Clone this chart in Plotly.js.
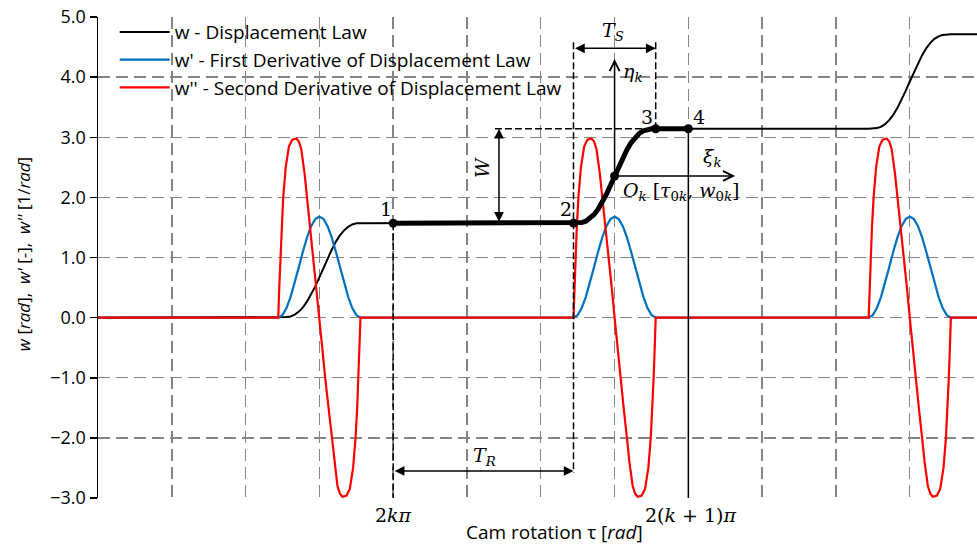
<!DOCTYPE html>
<html><head><meta charset="utf-8">
<script src="https://cdn.plot.ly/plotly-3.0.1.min.js"></script>
<style>html,body{margin:0;padding:0;background:#fff}</style>
</head><body><div id="chart" style="width:977px;height:544px"></div>
<script>
// ---- data (x in rad, y in rad / - / 1/rad) ----
const xMin = 0, xMax = 18.71;
const twoKPi = 6.283, twoK1Pi = 12.566;

// rise segments (displacement & first derivative sample positions)
const riseX1 = [3.837, 3.925, 4.012, 4.100, 4.187, 4.275, 4.362, 4.450, 4.537, 4.625, 4.712, 4.800, 4.887, 4.975, 5.062, 5.150, 5.237, 5.325, 5.412, 5.500, 5.587];
const riseX2 = [10.121, 10.209, 10.296, 10.384, 10.471, 10.559, 10.646, 10.734, 10.821, 10.909, 10.996, 11.084, 11.171, 11.259, 11.346, 11.434, 11.521, 11.609, 11.696, 11.784, 11.871];
const riseX3 = [16.404, 16.492, 16.579, 16.667, 16.754, 16.842, 16.929, 17.017, 17.104, 17.192, 17.279, 17.367, 17.454, 17.542, 17.629, 17.717, 17.804, 17.892, 17.979, 18.067, 18.154];

// w - displacement law
const wRise1 = [0, 0.00, 0.01, 0.02, 0.05, 0.10, 0.17, 0.27, 0.39, 0.52, 0.67, 0.83, 0.99, 1.13, 1.26, 1.37, 1.45, 1.51, 1.55, 1.57, 1.571];
const wRise2 = [1.571, 1.572, 1.581, 1.604, 1.647, 1.714, 1.804, 1.918, 2.052, 2.201, 2.356, 2.512, 2.660, 2.794, 2.908, 2.999, 3.065, 3.108, 3.132, 3.140, 3.142];
const wRise3 = [3.142, 3.143, 3.152, 3.175, 3.218, 3.284, 3.375, 3.489, 3.623, 3.771, 3.927, 4.083, 4.231, 4.365, 4.479, 4.570, 4.636, 4.679, 4.702, 4.711, 4.712];
const wEnd = 4.712;

// w' - first derivative (same bump in every rise)
const dwRise = [0, 0.041, 0.160, 0.346, 0.580, 0.840, 1.100, 1.334, 1.520, 1.639, 1.680, 1.639, 1.520, 1.334, 1.100, 0.840, 0.580, 0.346, 0.160, 0.041, 0];

// w'' - second derivative sample positions and values
const redX1 = [3.837, 3.858, 3.881, 3.907, 3.942, 3.995, 4.065, 4.135, 4.222, 4.275, 4.327, 4.397, 4.450, 4.520, 4.590, 4.651, 4.712, 4.773, 4.835, 4.905, 4.975, 5.027, 5.097, 5.150, 5.202, 5.290, 5.360, 5.430, 5.482, 5.517, 5.543, 5.566, 5.587];
const redX2 = [10.121, 10.142, 10.165, 10.191, 10.226, 10.279, 10.349, 10.419, 10.506, 10.559, 10.611, 10.681, 10.734, 10.804, 10.874, 10.935, 10.996, 11.057, 11.119, 11.189, 11.259, 11.311, 11.381, 11.434, 11.486, 11.574, 11.644, 11.714, 11.766, 11.801, 11.827, 11.850, 11.871];
const redX3 = [16.404, 16.425, 16.448, 16.474, 16.509, 16.562, 16.632, 16.702, 16.789, 16.842, 16.894, 16.964, 17.017, 17.087, 17.157, 17.218, 17.279, 17.340, 17.402, 17.472, 17.542, 17.594, 17.664, 17.717, 17.769, 17.857, 17.927, 17.997, 18.049, 18.084, 18.110, 18.133, 18.154];
const ddwRise = [0, 0.5, 1.0, 1.5, 2.0, 2.5, 2.85, 2.96, 2.98, 2.93, 2.8, 2.4, 2.0, 1.5, 1.0, 0.5, 0, -0.5, -1.0, -1.5, -2.0, -2.4, -2.8, -2.93, -2.98, -2.96, -2.85, -2.5, -2.0, -1.5, -1.0, -0.5, 0];

// characteristic points 1, 2, O_k, 3, 4
const ptX = [6.283, 10.121, 10.996, 11.871, 12.566];
const ptY = [1.571, 1.571, 2.356, 3.142, 3.142];

const yTickVals = [-3, -2, -1, 0, 1, 2, 3, 4, 5];
const legendNames = ["w - Displacement Law", "w' - First Derivative of Displacement Law", "w'' - Second Derivative of Displacement Law"];

// ---- traces ----
const traces = [
  {x: [xMin, ...riseX1, ...riseX2, ...riseX3, xMax], y: [0, ...wRise1, ...wRise2, ...wRise3, wEnd],
   mode: 'lines', name: legendNames[0], line: {color: '#000000', width: 2}},
  {x: [xMin, ...riseX1, ...riseX2, ...riseX3, xMax], y: [0, ...dwRise, ...dwRise, ...dwRise, 0],
   mode: 'lines', name: legendNames[1], line: {color: '#0070C0', width: 2.2}},
  {x: [xMin, ...redX1, ...redX2, ...redX3, xMax], y: [0, ...ddwRise, ...ddwRise, ...ddwRise, 0],
   mode: 'lines', name: legendNames[2], line: {color: '#FF0000', width: 2.2}},
  {x: [twoKPi, ...riseX2, twoK1Pi], y: [1.571, ...wRise2, 3.142],
   mode: 'lines', showlegend: false, hoverinfo: 'skip', line: {color: '#000000', width: 5}},
  {x: ptX, y: ptY, mode: 'markers', showlegend: false, hoverinfo: 'skip',
   marker: {color: '#000000', size: 9}}
];

const dashBlack = {color: '#000000', width: 1.5, dash: '7px,3px'};
const shapes = [
  {type: 'line', xref: 'x', yref: 'y', x0: twoKPi, x1: twoKPi, y0: 1.571, y1: -3, line: dashBlack},
  {type: 'line', xref: 'x', yref: 'y', x0: twoK1Pi, x1: twoK1Pi, y0: 3.142, y1: -3, line: {color: '#000000', width: 1.5}},
  {type: 'line', xref: 'x', yref: 'y', x0: 10.121, x1: 10.121, y0: 4.58, y1: -2.58, line: dashBlack},
  {type: 'line', xref: 'x', yref: 'y', x0: 11.871, x1: 11.871, y0: 4.58, y1: 3.142, line: dashBlack},
  {type: 'line', xref: 'x', yref: 'y', x0: 8.45, x1: 11.871, y0: 3.142, y1: 3.142, line: dashBlack}
];

const mathFont = {family: 'DejaVu Serif', size: 19, color: '#000000'};
function arrow(x, y, ax, ay, head, both) {
  const a = {x: x, y: y, ax: ax, ay: ay, xref: 'x', yref: 'y', axref: 'x', ayref: 'y', text: '',
    showarrow: true, arrowhead: head, arrowsize: 1.3, arrowwidth: 1.5, arrowcolor: '#000000', standoff: 0, startstandoff: 0};
  if (both) { a.arrowside = 'end+start'; a.startarrowhead = head; a.startarrowsize = 1.3; }
  return a;
}
function label(x, y, text, opts) {
  return Object.assign({x: x, y: y, xref: 'x', yref: 'y', text: text, showarrow: false, font: mathFont,
    xanchor: 'center', yanchor: 'middle'}, opts || {});
}

const annotations = [
  arrow(11.871, 4.48, 10.121, 4.48, 2, true),           // T_S
  arrow(10.121, -2.55, 6.283, -2.55, 2, true),          // T_R
  arrow(8.535, 3.142, 8.535, 1.571, 2, true),           // W
  arrow(10.996, 4.30, 10.996, 2.356, 5, false),         // eta_k
  arrow(13.56, 2.356, 10.996, 2.356, 5, false),         // xi_k
  label(10.96, 4.76, '<i>T</i><sub><i>S</i></sub>'),
  label(8.22, -2.31, '<i>T</i><sub><i>R</i></sub>'),
  label(8.19, 2.50, '<i>W</i>', {textangle: -90}),
  label(11.13, 4.08, '<i>η</i><sub><i>k</i></sub>', {xanchor: 'left'}),
  label(13.09, 2.66, '<i>ξ</i><sub><i>k</i></sub>'),
  label(11.13, 2.10, '<i>O</i><sub><i>k</i></sub> [<i>τ</i><sub>0<i>k</i></sub>, <i>w</i><sub>0<i>k</i></sub>]', {xanchor: 'left'}),
  label(6.13, 1.80, '1'),
  label(9.96, 1.80, '2'),
  label(11.69, 3.34, '3'),
  label(12.79, 3.34, '4'),
  {x: twoKPi, y: -0.035, xref: 'x', yref: 'paper', text: '2<i>kπ</i>', showarrow: false, font: mathFont, xanchor: 'center', yanchor: 'middle'},
  {x: 12.63, y: -0.035, xref: 'x', yref: 'paper', text: '2(<i>k</i> + 1)<i>π</i>', showarrow: false, font: mathFont, xanchor: 'center', yanchor: 'middle'},
  {x: 0.519, y: -0.071, xref: 'paper', yref: 'paper', text: 'Cam rotation τ [<i>rad</i>]', showarrow: false,
   font: {family: 'Open Sans', size: 19, color: '#000000'}, xanchor: 'center', yanchor: 'middle'},
  {x: -0.0853, y: 0.507, xref: 'paper', yref: 'paper', text: "<i>w</i> [<i>rad</i>],  <i>w'</i> [-],  <i>w''</i> [1/<i>rad</i>]",
   showarrow: false, textangle: -90, font: {family: 'Open Sans', size: 17, color: '#000000'}, xanchor: 'center', yanchor: 'middle'}
];

const gridStyle = {showgrid: true, gridcolor: '#858585', gridwidth: 1.4, griddash: '12px,6px', zeroline: false};

const layout = {
  width: 977, height: 544,
  margin: {l: 98, r: 0, t: 17, b: 46, pad: 0},
  paper_bgcolor: '#ffffff', plot_bgcolor: '#ffffff',
  font: {family: 'Open Sans', size: 17, color: '#000000'},
  showlegend: true,
  legend: {x: 0.019, y: 1.008, xanchor: 'left', yanchor: 'top', bgcolor: 'rgba(0,0,0,0)',
    font: {family: 'Open Sans', size: 19, color: '#000000'}, itemwidth: 50},
  xaxis: Object.assign({range: [xMin, xMax], tick0: 0, dtick: Math.PI / 2, showticklabels: false, ticks: '',
    showline: false, fixedrange: true}, gridStyle),
  yaxis: Object.assign({range: [-3, 5], tickvals: yTickVals, tickformat: '.1f', ticksuffix: '\u2009\u2009', ticks: 'outside', ticklen: 7,
    tickwidth: 1.5, tickcolor: '#000000', showline: true, linecolor: '#000000', linewidth: 1.5,
    tickfont: {family: 'Open Sans', size: 18, color: '#000000'}, fixedrange: true}, gridStyle),
  shapes: shapes,
  annotations: annotations
};

Plotly.newPlot('chart', traces, layout, {displayModeBar: false, staticPlot: true});
</script>
</body></html>
